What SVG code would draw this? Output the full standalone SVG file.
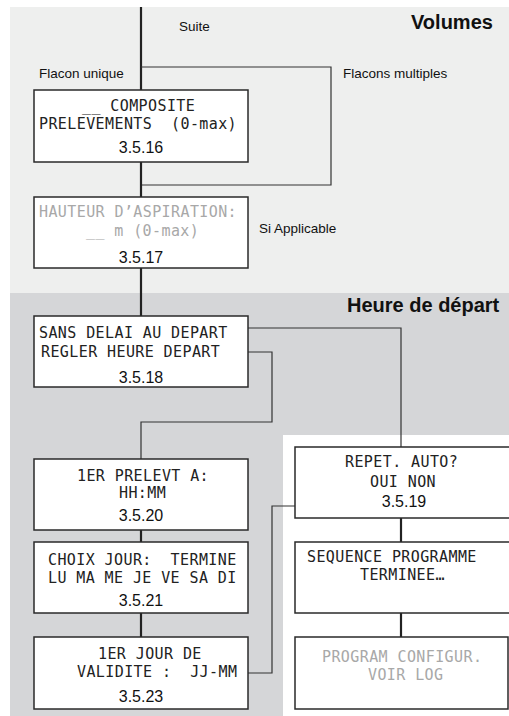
<svg xmlns="http://www.w3.org/2000/svg" width="509" height="716" viewBox="0 0 509 716">
<style>
.box{fill:#fff;stroke:#2a2a2a;stroke-width:1.5}
.mono{font-family:"DejaVu Sans Mono","Liberation Mono",monospace;font-size:15px;letter-spacing:0.4px;fill:#222;white-space:pre}
.grey{fill:#a8a8a8}
.num{font-family:"Liberation Sans",Arial,sans-serif;font-size:16px;fill:#111;text-anchor:middle}
.lbl{font-family:"Liberation Sans",Arial,sans-serif;font-size:13.5px;fill:#111}
.title{font-family:"Liberation Sans",Arial,sans-serif;font-size:20px;font-weight:bold;fill:#111}
.thick{stroke:#222;stroke-width:2.2;fill:none}
.thin{stroke:#333;stroke-width:1.2;fill:none}
</style>
<rect x="0" y="0" width="509" height="716" fill="#fff"/>
<rect x="10" y="7" width="499" height="286" fill="#eeefee"/>
<rect x="10" y="293" width="499" height="423" fill="#d5d6d8"/>
<rect x="283" y="435" width="226" height="281" fill="#fff"/>
<text class="title" x="411" y="29">Volumes</text>
<text class="title" x="347" y="312">Heure de départ</text>
<text class="lbl" x="179" y="31">Suite</text>
<text class="lbl" x="39" y="78">Flacon unique</text>
<text class="lbl" x="343" y="78">Flacons multiples</text>
<text class="lbl" x="259" y="233">Si Applicable</text>
<g id="connectors">
<line class="thick" x1="141" y1="7" x2="141" y2="90"/>
<polyline class="thin" points="141,67 331,67 331,185 141,185"/>
<line class="thick" x1="141" y1="162" x2="141" y2="197"/>
<line class="thick" x1="141" y1="268" x2="141" y2="316"/>
<polyline class="thin" points="248,328 401,328 401,447"/>
<polyline class="thin" points="248,352 272,352 272,422 141,422 141,459"/>
<polyline class="thin" points="295,506 272,506 272,673 248,673"/>
<line class="thick" x1="141" y1="530" x2="141" y2="542"/>
<line class="thick" x1="141" y1="613" x2="141" y2="637"/>
<line class="thick" x1="401" y1="518" x2="401" y2="542"/>
<line class="thick" x1="401" y1="613" x2="401" y2="637"/>
</g>
<g id="n3516">
<rect class="box" x="34" y="90" width="214" height="72"/>
<text class="mono" x="82" y="111" xml:space="preserve">__ COMPOSITE</text>
<text class="mono" x="39" y="129" xml:space="preserve">PRELEVEMENTS  (0-max)</text>
<text class="num" x="141" y="153">3.5.16</text>
</g>
<g id="n3517">
<rect class="box" x="34" y="197" width="214" height="71"/>
<text class="mono grey" x="39" y="217">HAUTEUR D’ASPIRATION:</text>
<text class="mono grey" x="86" y="236" xml:space="preserve">__ m (0-max)</text>
<text class="num" x="141" y="263">3.5.17</text>
</g>
<g id="n3518">
<rect class="box" x="34" y="316" width="214" height="71"/>
<text class="mono" x="39" y="338">SANS DELAI AU DEPART</text>
<text class="mono" x="41" y="357">REGLER HEURE DEPART</text>
<text class="num" x="141" y="383">3.5.18</text>
</g>
<g id="n3520">
<rect class="box" x="34" y="459" width="214" height="71"/>
<text class="mono" x="77" y="481">1ER PRELEVT A:</text>
<text class="mono" x="119" y="498">HH:MM</text>
<text class="num" x="141" y="521">3.5.20</text>
</g>
<g id="n3521">
<rect class="box" x="34" y="542" width="214" height="71"/>
<text class="mono" x="48" y="565" xml:space="preserve">CHOIX JOUR:  TERMINE</text>
<text class="mono" x="48" y="583">LU MA ME JE VE SA DI</text>
<text class="num" x="141" y="606">3.5.21</text>
</g>
<g id="n3523">
<rect class="box" x="34" y="637" width="214" height="72"/>
<text class="mono" x="98" y="659">1ER JOUR DE</text>
<text class="mono" x="77" y="677" xml:space="preserve">VALIDITE :  JJ-MM</text>
<text class="num" x="141" y="702">3.5.23</text>
</g>
<g id="n3519">
<rect class="box" x="295" y="447" width="216" height="71"/>
<text class="mono" x="345" y="467">REPET. AUTO?</text>
<text class="mono" x="370" y="487">OUI NON</text>
<text class="num" x="404" y="507">3.5.19</text>
</g>
<g id="nSeq">
<rect class="box" x="295" y="542" width="216" height="71"/>
<text class="mono" x="307" y="562">SEQUENCE PROGRAMME</text>
<text class="mono" x="360" y="580">TERMINEE…</text>
</g>
<g id="nLog">
<rect class="box" x="295" y="637" width="213" height="72"/>
<text class="mono grey" x="322" y="662">PROGRAM CONFIGUR.</text>
<text class="mono grey" x="368" y="680">VOIR LOG</text>
</g>
</svg>
